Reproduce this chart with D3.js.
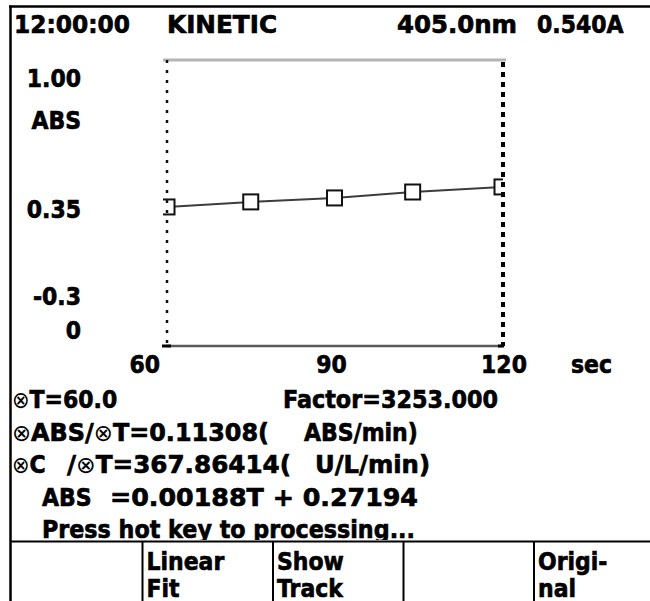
<!DOCTYPE html>
<html lang="en">
<head>
<meta charset="UTF-8">
<title>KINETIC</title>
<style>
    body { margin: 0; background: #fff; }
    svg { display: block; }
    text {
        font-family: "DejaVu Sans", sans-serif;
        font-weight: bold;
        font-size: 22px;
        fill: #000;
        stroke: #000;
        stroke-width: 0.6px;
        white-space: pre;
    }
    tspan.sym { font-weight: normal; stroke: none; font-size: 21px; }
</style>
<script src="https://d3js.org/d3.v7.min.js"></script>
</head>
<body>
<svg width="650" height="601"></svg>
<script>
    // readings off the screen
    const times = [60, 75, 90, 104, 120];
    const absValues = [0.332, 0.355, 0.373, 0.400, 0.423];

    const xTicks = [60, 90, 120];
    const xUnit = "sec";
    const yTicks = [1.00, 0.35, -0.30];
    const yTickLabels = [["1.00"], ["0.35"], ["-0.3", "0"]];
    const yUnit = "ABS";

    const header = ["12:00:00", "KINETIC", "405.0nm", "0.540A"];
    const infoRows = [
        ["\u2297T=60.0", "Factor=3253.000"],
        ["\u2297ABS/\u2297T=0.11308(", "ABS/min)"],
        ["\u2297C", "/\u2297T=367.86414(", "U/L/min)"],
        ["ABS", "=0.00188T + 0.27194"],
        ["Press hot key to processing..."]
    ];
    const buttons = [[], ["Linear", "Fit"], ["Show", "Track"], [], ["Origi-", "nal"]];

    const svg = d3.select("svg");
    const sy = 1.12; // lcd text is a bit stretched vertically

    function put(g, x, y, str, anchor, len) {
        const t = g.append("text")
            .attr("transform", `translate(${x},${y}) scale(1,${sy})`)
            .attr("text-anchor", anchor || "start");
        str.split(/(\u2297)/).forEach(part => {
            if (!part) return;
            const s = t.append("tspan").text(part);
            if (part === "\u2297") s.attr("class", "sym");
        });
        if (len) t.attr("textLength", len).attr("lengthAdjust", "spacingAndGlyphs");
        return t;
    }

    const x = d3.scaleLinear().domain([60, 120]).range([167, 502]);
    const y = d3.scaleLinear().domain([-0.30, 1.00]).range([346, 60]);

    // header
    const headerX = [14, 167, 397, 537];
    const headerLen = [116, 110, 120, null];
    header.forEach((h, i) => put(svg, headerX[i], 33, h, "start", headerLen[i]));

    // plot frame
    svg.append("line")
        .attr("x1", x(60) - 4).attr("x2", x(120) + 4)
        .attr("y1", y(1)).attr("y2", y(1))
        .style("stroke", "#b4b4b4").style("stroke-width", 3);
    svg.append("line")
        .attr("x1", x(60)).attr("x2", x(120))
        .attr("y1", y(-0.3)).attr("y2", y(-0.3))
        .style("stroke", "#5a5a5a").style("stroke-width", 2.7);
    [[x(60) - 5, x(60) + 4], [x(120) - 4, x(120) + 2]].forEach(s => {
        svg.append("line")
            .attr("x1", s[0]).attr("x2", s[1])
            .attr("y1", y(-0.3)).attr("y2", y(-0.3))
            .style("stroke", "#000").style("stroke-width", 3);
    });

    // data
    svg.append("clipPath").attr("id", "plotClip")
        .append("rect")
        .attr("x", x(60) - 4).attr("y", y(1))
        .attr("width", x(120) - x(60) + 5).attr("height", y(-0.3) - y(1));

    const pts = times.map((t, i) => ({ t: t, v: absValues[i] }));
    const plot = svg.append("g").attr("clip-path", "url(#plotClip)");

    plot.append("path")
        .datum(pts)
        .attr("d", d3.line().x(d => x(d.t)).y(d => y(d.v)))
        .style("fill", "none")
        .style("stroke", "#3c3c3c")
        .style("stroke-width", 2);

    plot.selectAll("rect.pt")
        .data(pts)
        .enter().append("rect")
        .attr("class", "pt")
        .attr("x", d => x(d.t) - 7.5)
        .attr("y", d => y(d.v) - 7.5)
        .attr("width", 15).attr("height", 15)
        .style("fill", "#fff")
        .style("stroke", "#111")
        .style("stroke-width", 2);

    // dotted edges
    svg.append("line")
        .attr("x1", x(60)).attr("x2", x(60))
        .attr("y1", y(1)).attr("y2", y(-0.3))
        .style("stroke", "#111").style("stroke-width", 2.5)
        .style("stroke-dasharray", "3,7");
    svg.append("line")
        .attr("x1", x(120) + 1).attr("x2", x(120) + 1)
        .attr("y1", y(1) + 2).attr("y2", y(-0.3))
        .style("stroke", "#000").style("stroke-width", 4)
        .style("stroke-dasharray", "5,5");

    // y labels, first hangs under its tick, last sits above it
    yTicks.forEach((v, i) => {
        const lines = yTickLabels[i];
        if (i === 0) {
            put(svg, 81, y(v) + 27, lines[0], "end");
        } else if (i === yTicks.length - 1) {
            lines.forEach((s, k) => put(svg, 81, y(v) - 7 - (lines.length - 1 - k) * 34, s, "end"));
        } else {
            put(svg, 81, y(v) + 15, lines[0], "end");
        }
    });
    put(svg, 81, 129, yUnit, "end");

    // x labels
    xTicks.forEach((t, i) => {
        if (i === 0) put(svg, x(t) - 7, 373, String(t), "end");
        else put(svg, x(t) - (i === xTicks.length - 1 ? -2 : 3), 373, String(t), "middle");
    });
    put(svg, 571, 373, xUnit);

    // result lines
    const rowX = [[12, 283], [12, 304], [12, 67, 315], [42, 110], [42]];
    const rowLen = [[null, 215], [257, null], [null, 224, 115], [null, 308], [373]];
    infoRows.forEach((row, r) => {
        row.forEach((s, k) => put(svg, rowX[r][k], 408 + r * 32.5, s, "start", rowLen[r][k]));
    });

    // soft key bar
    svg.append("rect")
        .attr("x", 10).attr("y", 540)
        .attr("width", 640).attr("height", 61)
        .style("fill", "#fff");
    svg.append("line")
        .attr("x1", 10).attr("x2", 650)
        .attr("y1", 541.5).attr("y2", 541.5)
        .style("stroke", "#000").style("stroke-width", 2);
    const cellW = 130.5;
    buttons.forEach((b, i) => {
        const left = 11 + i * cellW;
        if (i > 0) {
            svg.append("line")
                .attr("x1", left + 1).attr("x2", left + 1)
                .attr("y1", 541).attr("y2", 601)
                .style("stroke", "#000").style("stroke-width", 2);
        }
        b.forEach((s, k) => put(svg, left + 5, 570 + k * 27, s));
    });

    // outer frame
    svg.append("line")
        .attr("x1", 9).attr("x2", 650)
        .attr("y1", 6.5).attr("y2", 6.5)
        .style("stroke", "#000").style("stroke-width", 2.5);
    svg.append("line")
        .attr("x1", 10.5).attr("x2", 10.5)
        .attr("y1", 5.5).attr("y2", 601)
        .style("stroke", "#000").style("stroke-width", 2.5);
</script>
</body>
</html>
